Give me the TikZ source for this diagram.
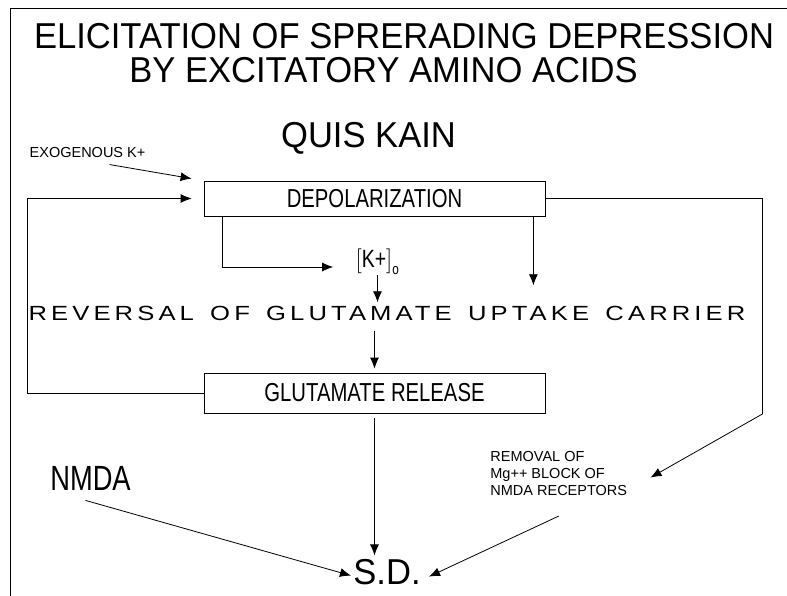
\documentclass[tikz,border=0pt]{standalone}
\usepackage{fontspec}
\setmainfont{Liberation Sans}
\newfontfamily\titlefont[FakeStretch=0.96]{Liberation Sans}
\newfontfamily\narrowfont[FakeStretch=0.78]{Liberation Sans}
\newfontfamily\widefont[FakeStretch=1.25,LetterSpace=20,WordSpace=1.45]{Liberation Sans}
\usetikzlibrary{arrows.meta,positioning}

\begin{document}
\begin{tikzpicture}[x=1pt, y=-1pt, line width=0.8pt, every node/.style={inner sep=0pt}, big/.style={font=\fontsize{36}{40}\selectfont\titlefont}, small/.style={font=\fontsize{14.5}{17}\selectfont}, box/.style={draw,minimum width=341pt,font=\fontsize{26}{30}\selectfont\narrowfont}, >={Latex[length=11pt,width=9pt]}]
\useasboundingbox (0,0) rectangle (787,596);
\draw (10,596) -- (10,8) -- (787,8);
\node[big,anchor=base] (t1) at (404,49) {ELICITATION OF SPRERADING DEPRESSION};
\node[big,anchor=base] (t2) at (383.5,83) {BY EXCITATORY AMINO ACIDS};
\node[big,anchor=base] (q) at (368.5,148) {QUIS KAIN};
\node[small,anchor=base] (e) at (87.5,158) {EXOGENOUS K+};
\node[box,minimum height=35pt] (d) at (374.5,198.5) {DEPOLARIZATION};
\node[font=\fontsize{25}{30}\selectfont\narrowfont] (k) at (377.5,262) {$\left[\mbox{K+}\right]_{\mbox{\fontsize{15}{15}\selectfont o}}$};
\node[anchor=base,font=\fontsize{20.5}{24}\selectfont\widefont] (r) at (387,320) {REVERSAL OF GLUTAMATE UPTAKE CARRIER};
\node[box,minimum height=40pt] (g) at (374.5,393) {GLUTAMATE RELEASE};
\node[anchor=base,font=\fontsize{35}{40}\selectfont\narrowfont] (n) at (90.5,490) {NMDA};
\node[small,anchor=north west,align=left] (m) at (490,451) {REMOVAL OF\\Mg++ BLOCK OF\\NMDA RECEPTORS};
\node[big,anchor=base] (sd) at (387,584) {S.D.};
\draw[->] ([shift={(22,6)}]e.south) -- ([shift={(-12,-2)}]d.north west);
\draw[->] (g.west) -- ++(-176,0) |- ([xshift=-12pt]d.west);
\draw[->] ([xshift=19pt]d.south west) |- ([shift={(-22,5)}]k.west);
\draw[->,shorten >=3pt] (k.south) -- (k.south |- r.north);
\draw[->,shorten >=20pt] ([xshift=-12pt]d.south east) -- ([xshift=-12pt]d.south east |- r.north);
\draw[->,shorten <=10pt,shorten >=4pt] (r.south -| g.north) -- (g.north);
\draw[->,shorten <=5pt,shorten >=3pt] (g.south) -- (g.south |- sd.north);
\draw[->] ([shift={(-5,10)}]n.south) -- ([shift={(-2,4)}]sd.west);
\draw[->] ([yshift=-20pt]m.south) -- ([shift={(8,5)}]sd.east);
\draw[->] (d.east) -- ++(217,0) -- ++(0,215.5) -- ([shift={(23,4)}]m.east);
\end{tikzpicture}
\end{document}
